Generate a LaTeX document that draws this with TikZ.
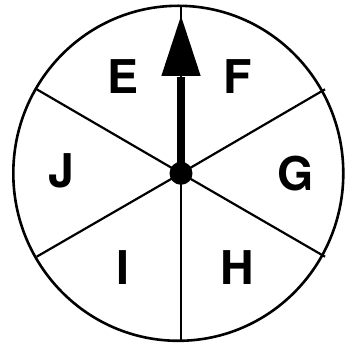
\documentclass[tikz,border=0pt]{standalone}
\usepackage{fontspec}
\setmainfont{TeX Gyre Heros}
\begin{document}
\begin{tikzpicture}[x=1pt,y=-1pt,
  rim/.style={line width=2.6pt},
  spoke/.style={line width=2.2pt},
  lettr/.style={inner sep=0pt,anchor=center,font=\fontsize{46.5pt}{46.5pt}\selectfont\bfseries}]
\useasboundingbox (0,0) rectangle (345,347);
\coordinate (hub) at (181,173.3);
\coordinate (top) at (181,5.8);
\coordinate (bot) at (181,340.8);
\coordinate (tl) at (36.7,89.3);
\coordinate (tr) at (325,89.3);
\coordinate (bl) at (36.7,256.7);
\coordinate (br) at (325,256.7);
\coordinate (hb) at (181,76);
\coordinate (hl) at (161.3,76);
\coordinate (hr) at (200.7,76);
\coordinate (tip) at (181,16);
\draw[rim] (178.3,173.3) ellipse [x radius=165, y radius=167.5];
\draw[spoke] (top) -- (bot);
\draw[spoke] (tl) -- (hub) -- (br);
\draw[spoke] (tr) -- (hub) -- (bl);
\draw[line width=8pt] (hub) -- ([yshift=-1pt]hb);
\fill (hl) -- (hr) -- (tip) -- cycle;
\fill (hub) circle[radius=11.5];
\node[lettr] (E) at (123.3,77) {E};
\node[lettr] (F) at (238,77) {F};
\node[lettr] (J) at (61.5,171) {J};
\node[lettr] (G) at (295.3,174) {G};
\node[lettr] (I) at (123.3,268) {I};
\node[lettr] (H) at (237,268) {H};
\end{tikzpicture}
\end{document}
